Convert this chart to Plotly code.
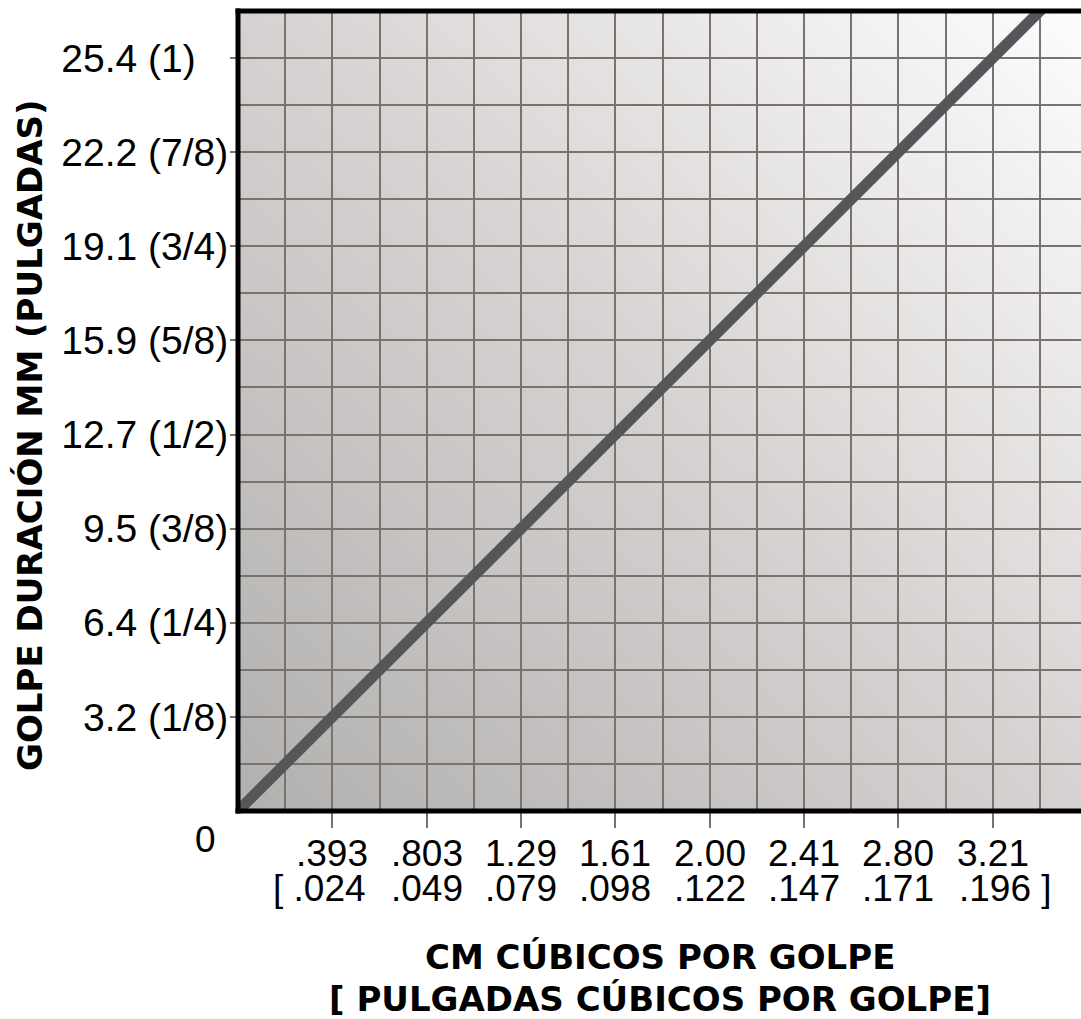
import base64
import struct
import zlib

import plotly.graph_objects as go

# ---------------- data ----------------
stroke_in = [0.125, 0.25, 0.375, 0.5, 0.625, 0.75, 0.875, 1.0]
stroke_mm_labels = ["3.2", "6.4", "9.5", "12.7", "15.9", "19.1", "22.2", "25.4"]
stroke_in_labels = ["1/8", "1/4", "3/8", "1/2", "5/8", "3/4", "7/8", "1"]
volume_cc_labels = [".393", ".803", "1.29", "1.61", "2.00", "2.41", "2.80", "3.21"]
volume_in3_labels = [".024", ".049", ".079", ".098", ".122", ".147", ".171", ".196"]

Y_MAX = 17 / 16          # axis top (inches of stroke)
X_MAX = 1.117            # axis right (same units)
GRID_STEP = 1 / 16

# ---------------- layout constants ----------------
W, H = 1081, 1019
ML, MR, MT, MB = 238, 0, 11, 208
PW = W - ML - MR
PH = H - MT - MB
GRID_COLOR = "#777470"
LINE_COLOR = "#555659"
TICK_FONT = "Liberation Sans, Arial, sans-serif"
TITLE_FONT = "DejaVu Sans, Verdana, sans-serif"
X_FONT_SIZE = 37
Y_FONT_SIZE = 39


def py_to_paper(py):
    return (H - MB - py) / PH


def px_to_paper(px):
    return (px - ML) / PW


# ---------------- background gradient image ----------------
def gradient_png(w, h):
    c0 = (178, 177, 176)
    cm = (214, 210, 209)
    c1 = (253, 253, 253)
    raw = bytearray()
    for j in range(h):
        raw.append(0)
        v = 1 - j / (h - 1)
        for i in range(w):
            u = i / (w - 1)
            t = (u + v) / 2
            if t < 0.5:
                a, b, s = c0, cm, t / 0.5
            else:
                a, b, s = cm, c1, (t - 0.5) / 0.5
            raw.extend(int(round(a[k] + (b[k] - a[k]) * s)) for k in range(3))

    def chunk(tag, data):
        c = struct.pack(">I", len(data)) + tag + data
        return c + struct.pack(">I", zlib.crc32(tag + data) & 0xFFFFFFFF)

    png = (b"\x89PNG\r\n\x1a\n"
           + chunk(b"IHDR", struct.pack(">IIBBBBB", w, h, 8, 2, 0, 0, 0))
           + chunk(b"IDAT", zlib.compress(bytes(raw), 9))
           + chunk(b"IEND", b""))
    return "data:image/png;base64," + base64.b64encode(png).decode()


fig = go.Figure()

line_x = [0.0] + stroke_in + [X_MAX]
line_y = [0.0] + stroke_in + [X_MAX]
fig.add_trace(go.Scatter(
    x=line_x, y=line_y, mode="lines",
    line=dict(color=LINE_COLOR, width=11),
    hoverinfo="skip", showlegend=False,
))

fig.add_layout_image(dict(
    source=gradient_png(200, 200),
    xref="x", yref="y", x=0, y=Y_MAX, sizex=X_MAX, sizey=Y_MAX,
    xanchor="left", yanchor="top", sizing="stretch", layer="below",
))

# y tick texts; the top label sits a little left of the others, as in the original
y_ticktext = [f"{m} ({f})" for m, f in zip(stroke_mm_labels, stroke_in_labels)]
y_ticktext[-1] = y_ticktext[-1] + "\u00a0\u00a0\u00a0"

fig.update_xaxes(
    range=[0, X_MAX], tickvals=stroke_in, showticklabels=False,
    ticks="outside", ticklen=16, tickwidth=2, tickcolor=GRID_COLOR,
    showgrid=True, gridcolor=GRID_COLOR, gridwidth=2,
    minor=dict(tick0=0, dtick=GRID_STEP, showgrid=True,
               gridcolor=GRID_COLOR, gridwidth=2, ticks=""),
    zeroline=False, showline=False, fixedrange=True,
)
fig.update_yaxes(
    range=[0, Y_MAX], tickvals=stroke_in, ticktext=y_ticktext,
    tickfont=dict(family=TICK_FONT, size=Y_FONT_SIZE, color="black"),
    ticks="outside", ticklen=7, tickwidth=2, tickcolor=GRID_COLOR,
    ticklabelstandoff=-6,
    showgrid=True, gridcolor=GRID_COLOR, gridwidth=2,
    minor=dict(tick0=0, dtick=GRID_STEP, showgrid=True,
               gridcolor=GRID_COLOR, gridwidth=2, ticks=""),
    zeroline=False, showline=False, fixedrange=True,
)

# frame (left, top, bottom)
bw = 5
ex = (bw / 2) / PW
ey = (bw / 2) / PH
frame = [
    dict(x0=0, x1=0, y0=-ey, y1=1 + ey),
    dict(x0=-ex, x1=1, y0=1, y1=1),
    dict(x0=-ex, x1=1, y0=0, y1=0),
]
for f in frame:
    fig.add_shape(type="line", xref="paper", yref="paper",
                  line=dict(color="black", width=bw), layer="above", **f)

annotations = []
xfont = dict(family=TICK_FONT, size=X_FONT_SIZE, color="black")
half_w = X_FONT_SIZE * 1.946 / 2
for i, xv in enumerate(stroke_in):
    annotations.append(dict(
        x=xv, xref="x", y=py_to_paper(853), yref="paper",
        text=volume_cc_labels[i], showarrow=False, font=xfont,
        xanchor="center", yanchor="middle",
    ))
    txt = volume_in3_labels[i]
    a = dict(x=xv, xref="x", y=py_to_paper(888), yref="paper",
             showarrow=False, font=xfont, yanchor="middle")
    if i == 0:
        a.update(text="[ " + txt, xanchor="right", xshift=half_w)
    elif i == len(stroke_in) - 1:
        a.update(text=txt + " ]", xanchor="left", xshift=-half_w)
    else:
        a.update(text=txt, xanchor="center")
    annotations.append(a)

# origin label
annotations.append(dict(
    x=px_to_paper(205), xref="paper", y=py_to_paper(840), yref="paper",
    text="0", showarrow=False, font=xfont, xanchor="center", yanchor="middle",
))

tfont = dict(family=TITLE_FONT, size=34, color="black")
annotations.append(dict(
    x=0.5, xref="paper", y=py_to_paper(957), yref="paper",
    text="<b>CM CÚBICOS POR GOLPE</b>", showarrow=False, font=tfont,
    xanchor="center", yanchor="middle",
))
annotations.append(dict(
    x=0.5, xref="paper", y=py_to_paper(999), yref="paper",
    text="<b>[ PULGADAS CÚBICOS POR GOLPE]</b>", showarrow=False, font=tfont,
    xanchor="center", yanchor="middle",
))
annotations.append(dict(
    x=px_to_paper(30), xref="paper", y=py_to_paper(435), yref="paper",
    text="<b>GOLPE DURACIÓN MM (PULGADAS)</b>", showarrow=False, font=tfont,
    textangle=-90, xanchor="center", yanchor="middle",
))

fig.update_layout(
    width=W, height=H,
    margin=dict(l=ML, r=MR, t=MT, b=MB, pad=0),
    paper_bgcolor="white", plot_bgcolor="rgba(0,0,0,0)",
    annotations=annotations, showlegend=False,
)

fig.write_html(
    "out.html",
    config={"displayModeBar": False},
    post_script="document.body.style.margin='0px';document.body.style.padding='0px';",
)
